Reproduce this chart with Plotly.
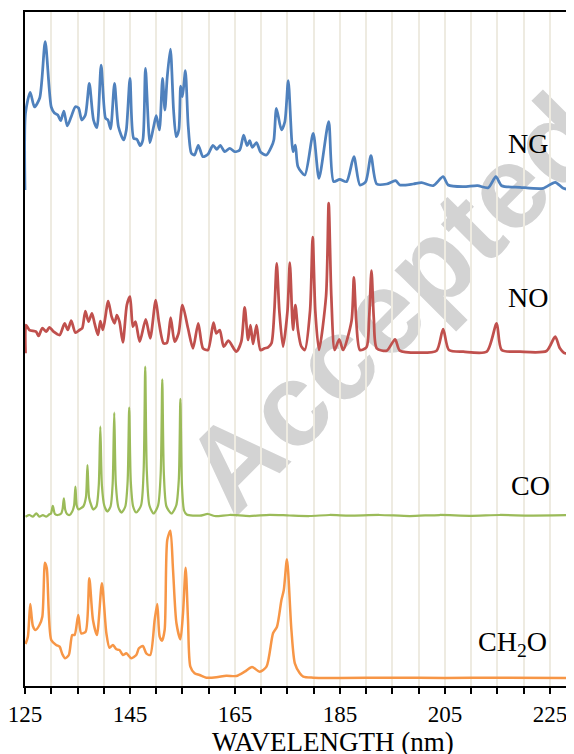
import plotly.graph_objects as go

# ---------------- data ----------------
# Emission spectra, arbitrary intensity units (each relative to its own baseline)
ng_wl = [125.0, 125.1, 126.0, 126.8, 127.8, 128.85, 130.0, 130.6, 131.25, 131.8, 132.4, 133.05,
         133.8, 134.6, 135.2, 135.8, 136.5, 137.25, 138.05, 138.7, 139.5, 140.35, 140.8, 141.3,
         142.05, 142.8, 143.8, 144.3, 145.0, 145.7, 146.3, 146.95, 147.45, 147.95, 148.8, 149.5,
         150.0, 150.6, 151.2, 151.65, 152.1, 152.7, 153.3, 153.8, 154.3, 154.65, 155.0, 155.55,
         156.1, 156.7, 157.3, 158.0, 158.9, 159.85, 160.8, 161.55, 162.2, 163.05, 164.0, 164.95,
         165.9, 166.65, 167.3, 167.8, 168.3, 169.1, 169.9, 171.0, 171.95, 172.4, 172.9, 173.85,
         174.5, 175.15, 176.05, 176.5, 177.0, 178.3, 179.9, 181.0, 182.85, 183.8, 184.95, 186.25,
         187.65, 188.8, 189.9, 190.9, 192.0, 193.9, 195.6, 196.4, 198.95, 200.55, 202.75, 204.65,
         205.6, 208.5, 211.2, 213.25, 214.7, 215.8, 219.3, 223.7, 226.0, 227.55, 229.6]
ng_val = [-2, 75, 95.7, 81, 90, 146.3, 81, 75, 73, 67.3, 77, 62,
          71.3, 81.3, 80, 68, 73, 104.7, 68, 60.3, 123, 69.7, 68, 59,
          104.7, 61.3, 48, 58, 109.7, 49.7, 48.7, 42.3, 48, 119.7, 45.3, 61.3,
          72.3, 58, 109.7, 78, 111.3, 139, 78, 51.3, 58, 102, 91.3, 117.3,
          61.3, 34.7, 33, 42.7, 31.3, 33.7, 42.7, 38.7, 42.7, 36.3, 39.7, 36.3,
          38, 53, 42.3, 47.3, 40.7, 45.3, 35.7, 33, 41.3, 48, 79.7, 58,
          66.3, 107.5, 36.3, 43, 21.3, 13, 54.7, 9.7, 66.3, 6.3, 8.7, 6.3,
          31.3, 3, 6.3, 32.3, 4, 4, 7.3, 3, 4, 5.3, 2.3, 11.3,
          3, 1.3, 2.3, 0.3, 11.3, 2.3, 0.7, -0.3, 5.7, -0.3, -2]

no_wl = [125.1, 125.2, 125.85, 127.1, 127.6, 128.3, 129.05, 129.65, 130.45, 131.6, 132.55, 133.15,
         133.8, 134.6, 135.4, 135.9, 136.5, 137.1, 137.75, 138.25, 138.9, 139.35, 139.85, 140.85,
         141.5, 142.05, 142.5, 143.0, 143.65, 144.4, 145.0, 145.55, 146.05, 146.85, 148.0, 148.85,
         149.9, 150.5, 151.4, 152.05, 152.75, 153.5, 154.25, 155.0, 156.05, 157.0, 158.0, 158.9,
         159.85, 160.9, 161.45, 162.1, 162.85, 163.75, 165.25, 166.2, 166.85, 167.5, 167.95, 168.45,
         169.1, 169.85, 170.65, 171.3, 171.95, 172.5, 172.95, 173.45, 174.15, 175.0, 175.45, 175.85,
         176.05, 176.5, 177.0, 177.6, 178.3, 179.3, 179.8, 180.3, 181.0, 182.35, 182.85, 183.35,
         184.0, 184.85, 185.6, 187.2, 187.65, 188.1, 188.8, 190.05, 190.55, 191.0, 191.45, 192.0,
         193.9, 195.5, 196.4, 200.2, 203.4, 204.65, 205.75, 208.5, 212.95, 214.85, 215.8, 219.3,
         224.35, 226.0, 226.9, 227.85, 229.6]
no_val = [-2.3, 26, 21, 19.3, 15, 23, 19.3, 23.7, 19.3, 16, 27.7, 21,
          30.3, 18.3, 21, 22.7, 40, 29.3, 37.7, 27.7, 16, 30, 21, 50,
          34.3, 27.7, 36, 29.3, 8.7, 46, 54.3, 24.3, 29.3, 9.3, 31.7, 12.7,
          51, 29.3, 7.7, 8.3, 33.3, 9.3, 17.7, 46, 22.7, 2.7, 27.7, 2.7,
          1, 28.3, 17.7, 21, 4.3, 10.3, -0.7, 9.3, 43.7, 11, 26, 7,
          26, 1, 2.7, 3.7, 7.7, 40, 87.7, 40, 4.3, 40, 88.3, 40,
          21, 46, 21, 5, 1, 40, 114, 40, 1, 55, 148, 55,
          1, 11.7, 1, 30, 73.7, 30, 1, 3.7, 32, 80.3, 32, 2.7,
          0.3, 11.7, 0.3, -1.7, 0.3, 22, 1, -0.7, -0.7, 27.7, 1, -0.7,
          0, 14.3, 2.7, -2.3, -0.7]

co_wl = [125.1, 125.85, 126.5, 127.15, 127.75, 128.4, 129.05, 129.65, 129.95, 130.3, 130.7, 131.25,
         131.9, 132.15, 132.4, 132.65, 133.0, 133.5, 134.0, 134.35, 134.6, 134.85, 135.2, 135.7,
         136.1, 136.6, 136.9, 137.2, 137.7, 138.0, 138.6, 139.05, 139.35, 139.65, 140.1, 140.7,
         141.3, 141.7, 142.0, 142.3, 142.8, 143.4, 144.1, 144.55, 144.85, 145.15, 145.6, 146.2,
         147.1, 147.6, 147.9, 148.2, 148.7, 149.5, 150.35, 150.85, 151.15, 151.45, 151.95, 152.9,
         153.8, 154.3, 154.6, 154.9, 155.3, 155.8, 158.3, 159.85, 161.15, 164.0, 167.8, 171.6,
         175.4, 179.2, 183.0, 186.8, 192.55, 198.3, 204.0, 209.7, 215.45, 221.2, 229.6]
co_val = [-1.2, 0.5, -1.2, 2.2, -1.2, 0.5, -1.2, 1.2, 2, 9.5, 1.5, 0.5,
          2, 6, 17.2, 6, 1.5, 0.5, 4, 10, 28.8, 10, 6, 7.5,
          9, 18, 50.5, 18, 9, 6, 9, 30, 88.8, 30, 10, 4,
          9, 32, 102.8, 32, 8, 3, 9, 34, 107.8, 34, 9, 3,
          10, 45, 148.8, 45, 10, 2, 10, 42, 136.2, 42, 9, 2,
          10, 36, 116.5, 30, 5, 1, -0.2, 1.5, -0.5, 0.5, -0.5, 0.7,
          0, -0.5, 0.5, 0, 0.5, -0.5, 0.5, -0.3, 0.5, 0, 0.5]

ch2o_wl = [125.1, 125.55, 126.0, 126.5, 127.0, 127.75, 128.3, 128.8, 129.15, 130.0, 130.95, 131.6,
           132.1, 132.65, 133.35, 134.0, 134.45, 135.15, 135.7, 136.55, 137.25, 137.95, 138.7, 139.65,
           140.5, 141.1, 141.75, 142.4, 143.0, 143.65, 144.3, 145.25, 146.2, 146.7, 147.45, 148.1,
           148.85, 149.7, 150.2, 150.65, 151.1, 151.6, 152.1, 152.7, 153.2, 153.85, 154.6, 155.1,
           155.6, 156.05, 156.5, 157.3, 158.25, 159.55, 161.45, 163.35, 165.25, 166.85, 168.25, 169.7,
           171.0, 172.25, 173.0, 173.85, 174.3, 174.9, 175.75, 176.4, 177.35, 178.0, 179.9, 185.0,
           195.0, 205.0, 215.0, 229.6]
ch2o_val = [34, 41.3, 74, 52, 48, 53, 61.3, 115.3, 109.7, 38, 33, 31.3,
            24, 19.7, 23, 43, 43, 63, 44.7, 46.3, 99.7, 58, 43, 94.7,
            44.7, 30.3, 33, 28.7, 28, 23, 24.7, 19.7, 23, 29.7, 32, 24.7,
            23, 58, 74, 41.3, 37.3, 48, 138, 147.3, 108, 54.7, 38.7, 64.7,
            110.3, 58, 11.3, 4.7, 3, 0.3, 0.7, 2.3, 2, 6.3, 11, 6.3,
            11.3, 44.7, 51.3, 78, 88, 118.7, 48, 14.7, 4.7, 1.3, 0.3, 0,
            0.3, 0, 0.3, 0]

series_names = ["NG", "NO", "CO", "CH<sub>2</sub>O"]
series_colors = ["#4F81BD", "#C0504D", "#9BBB59", "#F79646"]
series_offsets = [498, 335, 170.5, 8]   # vertical stacking offsets
label_y = [543, 389, 201, 43]
label_x = [220.8, 220.8, 221.2, 217.9]

x_tick0, x_major, x_minor = 125, 20, 5

# ---------------- figure ----------------
fig = go.Figure()
all_wl = [ng_wl, no_wl, co_wl, ch2o_wl]
all_val = [ng_val, no_val, co_val, ch2o_val]
widths = [2.75, 2.75, 2.25, 2.5]
for wl, val, col, off, w in zip(all_wl, all_val, series_colors, series_offsets, widths):
    fig.add_trace(go.Scatter(x=wl, y=[v + off for v in val], mode="lines",
                             line=dict(color=col, width=w, shape="spline", smoothing=0.7),
                             showlegend=False, hoverinfo="skip"))

for name, lx, ly in zip(series_names, label_x, label_y):
    fig.add_annotation(x=lx, y=ly, xref="x", yref="y", text=name, showarrow=False,
                       xanchor="center", yanchor="middle",
                       font=dict(family="Liberation Serif", size=28, color="black"))

# watermark (drawn under gridlines)
fig.add_shape(type="rect", xref="x", yref="y", x0=188.5, x1=198.5, y0=381, y1=401,
              line=dict(width=0), fillcolor="rgba(0,0,0,0)", layer="below",
              label=dict(text="Accepted", textangle=-45, textposition="middle center",
                         font=dict(family="Liberation Sans", size=118, color="#D3D3D3",
                                   weight="bold")))

# axis title
fig.add_annotation(x=183.6, y=-0.083, xref="x", yref="paper", text="WAVELENGTH (nm)",
                   showarrow=False, xanchor="center", yanchor="middle",
                   font=dict(family="Liberation Serif", size=27, color="black"))

fig.update_xaxes(range=[125, 229.58], tick0=x_tick0, dtick=x_major, ticks="outside",
                 ticklen=6, tickwidth=1.5, tickcolor="black", automargin=False,
                 ticklabeloverflow="allow",
                 showgrid=True, gridcolor="#EEEBE1", gridwidth=2,
                 showline=True, linecolor="black", linewidth=2, mirror=True,
                 tickfont=dict(family="Liberation Serif", size=23, color="black"),
                 minor=dict(tick0=x_tick0, dtick=x_minor, ticks="outside", ticklen=6,
                            tickwidth=1.5, tickcolor="black", showgrid=True,
                            gridcolor="#EEEBE1", gridwidth=2),
                 zeroline=False)
fig.update_yaxes(range=[0, 674], showticklabels=False, ticks="", showgrid=False,
                 automargin=False, zeroline=False, showline=True, linecolor="black",
                 linewidth=2)

# the page body has an 8px margin, so the figure is sized/offset to fill the window
fig.update_layout(width=566, height=746, margin=dict(l=17, r=0, t=4, b=68),
                  paper_bgcolor="white", plot_bgcolor="white")

fig.write_html("out.html")
